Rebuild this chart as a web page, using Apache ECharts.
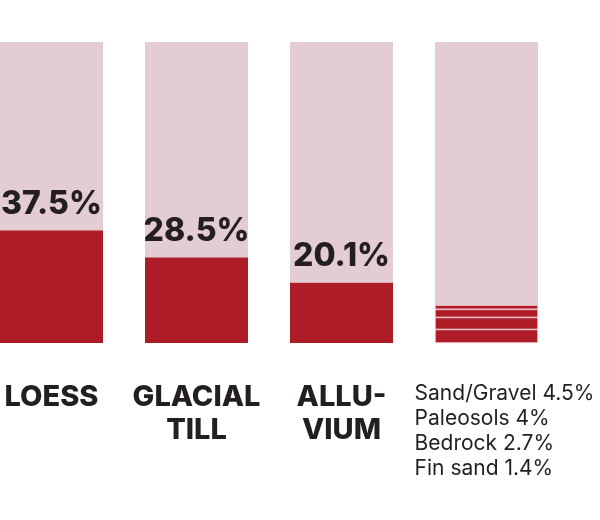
<!DOCTYPE html>
<html>
<head>
<meta charset="utf-8">
<script src="https://cdn.jsdelivr.net/npm/echarts@6/dist/echarts.min.js"></script>
<style>html,body{margin:0;padding:0;background:#fff}#c{width:600px;height:520px}</style>
</head>
<body>
<div id="c"></div>
<script>
var categories = ['LOESS', 'GLACIAL\nTILL', 'ALLU-\nVIUM', 'OTHER'];
var mainValues = [37.5, 28.5, 20.1, null];
var otherNames = ['Sand/Gravel', 'Paleosols', 'Bedrock', 'Fin sand'];
var otherValues = [4.5, 4, 2.7, 1.4];

var RED = '#ae1c28', PINK = '#e3ccd2', DARK = '#231f20';
var FONT = 'Inter';

var otherIndex = 3;
var remainder = categories.map(function (c, i) {
  if (i === otherIndex) {
    return 100 - otherValues.reduce(function (a, b) { return a + b; }, 0);
  }
  return 100 - mainValues[i];
});

var series = [{
  type: 'bar', stack: 's', barWidth: 103,
  data: mainValues.map(function (v) { return v == null ? '-' : v; }),
  itemStyle: { color: RED },
  label: {
    show: true, position: 'top', distance: 10,
    formatter: function (p) { return p.value + '%'; },
    fontFamily: FONT, fontWeight: 800, fontSize: 32, color: DARK
  },
  silent: true
}];
otherValues.forEach(function (v, k) {
  series.push({
    type: 'bar', stack: 's', barWidth: 103,
    data: categories.map(function (c, i) { return i === otherIndex ? v : '-'; }),
    itemStyle: { color: RED, borderColor: '#eab9c1', borderWidth: 0.8 },
    silent: true
  });
});
series.push({
  type: 'bar', stack: 's', barWidth: 103,
  data: remainder,
  itemStyle: { color: PINK },
  silent: true
});

var chart = echarts.init(document.getElementById('c'), null, { renderer: 'canvas' });
chart.setOption({
  animation: false,
  grid: { left: -21, width: 580, top: 42, bottom: 177, containLabel: false, outerBoundsMode: 'none' },
  xAxis: {
    type: 'category', data: categories,
    axisLine: { show: false }, axisTick: { show: false },
    axisLabel: {
      interval: 0, margin: 38, hideOverlap: false,
      formatter: function (val, i) {
        if (i === otherIndex) {
          return otherNames.map(function (n, k) {
            return '{o|' + n + ' ' + otherValues[k] + '%}';
          }).join('\n');
        }
        return val.split('\n').map(function (s) { return '{c|' + s + '}'; }).join('\n');
      },
      rich: {
        c: { fontFamily: FONT, fontWeight: 800, fontSize: 29, lineHeight: 33, color: DARK, align: 'center' },
        o: { fontFamily: FONT, fontSize: 21, lineHeight: 25, color: DARK, align: 'left', padding: [0, 0, 0, 36] }
      }
    }
  },
  yAxis: { type: 'value', min: 0, max: 100, show: false, splitLine: { show: false } },
  series: series
});
</script>
</body>
</html>
